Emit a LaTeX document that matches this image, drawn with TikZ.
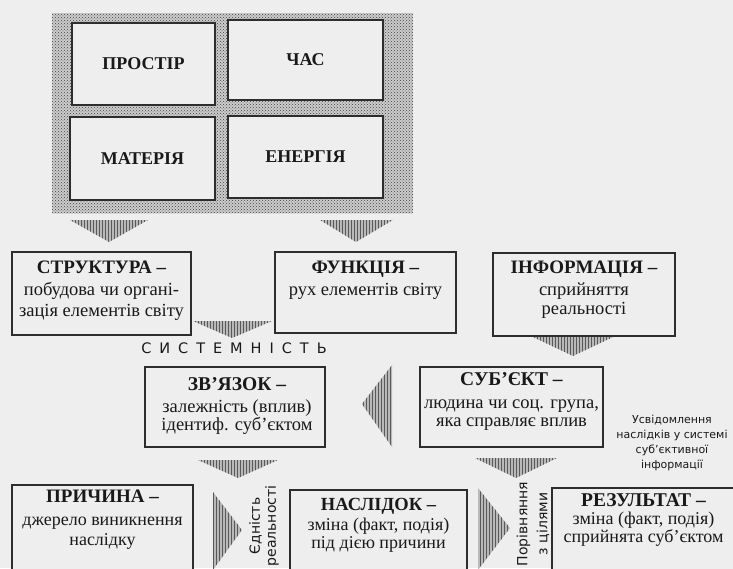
\documentclass[tikz,border=0pt]{standalone}
\usepackage{fontspec}
\setmainfont{Liberation Serif}
\newfontfamily\gsans{DejaVu Sans}
\newfontfamily\spsans[LetterSpace=55]{DejaVu Sans}
\usetikzlibrary{patterns}
\definecolor{bg}{RGB}{238,238,238}
\definecolor{edge}{RGB}{45,45,45}
\definecolor{ink}{RGB}{25,25,25}
\begin{document}
\begin{tikzpicture}[x=1pt,y=-1pt,
  box/.style={draw=edge, line width=1.3pt, fill=bg, inner sep=0pt},
  topbox/.style={box, font=\fontsize{18}{20}\selectfont\bfseries, text=ink},
  lbl/.style={align=center, anchor=north, inner sep=0pt, text=ink},
  tri/.style={fill=gray!55, postaction={pattern=vertical lines, pattern color=black!65}},
  sans/.style={inner sep=0pt, text=ink, align=center}
]
\useasboundingbox (0,0) rectangle (733,568);
\clip (0,0) rectangle (733,568);
\fill[bg] (0,0) rectangle (733,568);

% dotted field
\fill[gray!40] (52,13) rectangle (413,213);
\fill[pattern=crosshatch dots, pattern color=black!75] (52,13) rectangle (413,213);

% top boxes
\node[topbox, minimum width=143, minimum height=82] (prostir) at (143.5,64) {ПРОСТІР};
\node[topbox, minimum width=155, minimum height=80] (chas) at (305.5,60) {ЧАС};
\node[topbox, minimum width=145, minimum height=83] (materia) at (142.5,158.5) {МАТЕРІЯ};
\node[topbox, minimum width=155, minimum height=82] (energia) at (305.5,157) {ЕНЕРГІЯ};

% row 2 boxes
\node[box, minimum width=179, minimum height=83] (struktura) at (101.5,293.5) {};
\node[box, minimum width=181, minimum height=81] (funktsia) at (365.5,292.5) {};
\node[box, minimum width=182, minimum height=83] (informatsia) at (584,294.5) {};
% row 3 boxes
\node[box, minimum width=180, minimum height=80] (zvyazok) at (235,407) {};
\node[box, minimum width=183, minimum height=80] (subiekt) at (511.5,407) {};
% row 4 boxes (cut by the lower edge)
\node[box, minimum width=181, minimum height=90] (prychyna) at (102.5,530) {};
\node[box, minimum width=177, minimum height=86] (naslidok) at (378.5,533) {};
\node[box, minimum width=183, minimum height=88] (rezultat) at (643.5,532) {};

% texts
\node[lbl, font=\fontsize{18.5}{21.5}\selectfont] (struktura-t) at (101.5,261)
  {{\fontsize{19}{21.5}\selectfont\bfseries СТРУКТУРА –}\\побудова чи органі-\\зація елементів світу};
\node[lbl, font=\fontsize{18.5}{21.5}\selectfont] (funktsia-t) at (365.5,261)
  {{\fontsize{19}{21.5}\selectfont\bfseries ФУНКЦІЯ –}\\рух елементів світу};
\node[lbl, font=\fontsize{18.5}{19}\selectfont] (informatsia-t) at (584,261)
  {{\fontsize{19}{19}\selectfont\bfseries ІНФОРМАЦІЯ –}\\[3pt]сприйняття\\реальності};
\node[lbl, font=\fontsize{18.5}{17}\selectfont] (zvyazok-t) at (237,377)
  {{\fontsize{19.5}{17}\selectfont\bfseries ЗВ’ЯЗОК –}\\[5pt]залежність (вплив)\\ідентиф. суб’єктом};
\node[lbl, font=\fontsize{18.5}{18.5}\selectfont] (subiekt-t) at (511.5,372)
  {{\fontsize{19.5}{18.5}\selectfont\bfseries СУБ’ЄКТ –}\\[4.5pt]людина чи соц. група,\\яка справляє вплив};
\node[lbl, font=\fontsize{18}{20}\selectfont] (prychyna-t) at (102.5,490)
  {{\fontsize{19}{20}\selectfont\bfseries ПРИЧИНА –}\\[3pt]джерело виникнення\\наслідку};
\node[lbl, font=\fontsize{18}{18.5}\selectfont] (naslidok-t) at (378.5,498)
  {{\fontsize{18.5}{18.5}\selectfont\bfseries НАСЛІДОК –}\\[1.5pt]зміна (факт, подія)\\під дією причини};
\node[lbl, font=\fontsize{18}{18}\selectfont] (rezultat-t) at (643.5,493)
  {{\fontsize{19.5}{18}\selectfont\bfseries РЕЗУЛЬТАТ –}\\зміна (факт, подія)\\сприйнята суб’єктом};

% side labels
\node[sans, font=\spsans\fontsize{14.5}{16}\selectfont] (systemnist) at (234,348) {СИСТЕМНІСТЬ};
\node[sans, anchor=north, font=\gsans\fontsize{11}{15}\selectfont] (usvid) at (672,415)
  {Усвідомлення\\наслідків у системі\\суб’єктивної\\інформації};
\node[sans, rotate=90, font=\gsans\fontsize{14}{16}\selectfont] (yednist) at (264,526)
  {Єдність\\реальності};
\node[sans, rotate=90, font=\gsans\fontsize{14}{20}\selectfont] (porivn) at (533,524)
  {Порівняння\\з цілями};

% hatched arrowheads
\path[tri] (70,220) -- (148,220) -- (109,242) -- cycle;
\path[tri] (320,220) -- (393,220) -- (356,242) -- cycle;
\path[tri] (193,321) -- (272,321) -- (232,338) -- cycle;
\path[tri] (533,337) -- (613,337) -- (573,356) -- cycle;
\path[tri] (392,365) -- (392,447) -- (362,404) -- cycle;
\path[tri] (198,460) -- (278,460) -- (238,478) -- cycle;
\path[tri] (475,458) -- (557,458) -- (516,478) -- cycle;
\path[tri] (213,492) -- (213,570) -- (242,530) -- cycle;
\path[tri] (478,488) -- (478,570) -- (510,528) -- cycle;
\end{tikzpicture}
\end{document}
